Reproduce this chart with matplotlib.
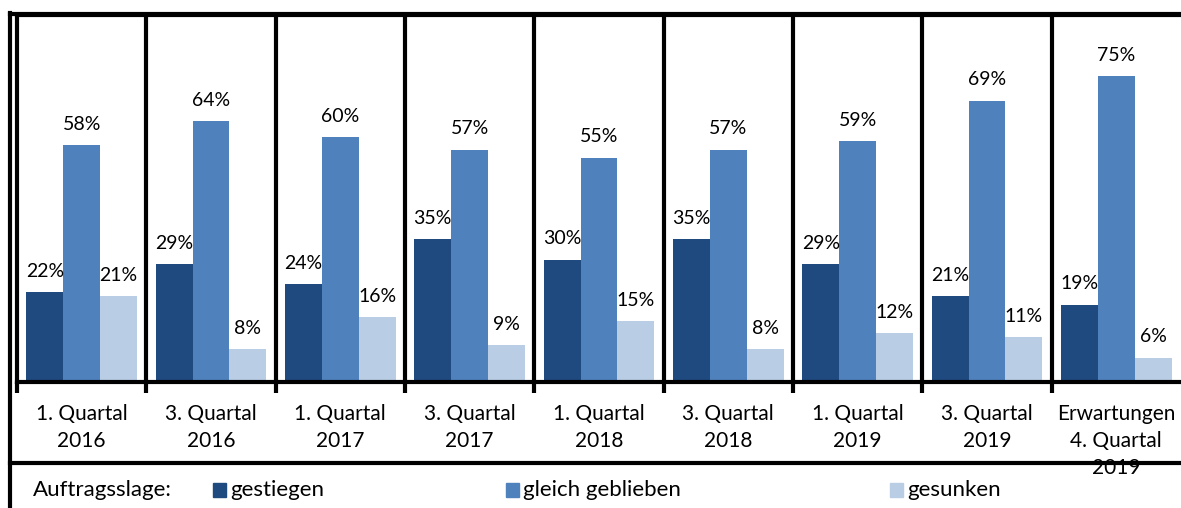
import numpy as np
import matplotlib
matplotlib.use("Agg")
import matplotlib.pyplot as plt
from matplotlib.lines import Line2D
from matplotlib.patches import Rectangle
import matplotlib.transforms as mtransforms

plt.rcParams['font.family'] = ['Lato', 'DejaVu Sans']

# Daten
kategorien = ["1. Quartal\n2016", "3. Quartal\n2016", "1. Quartal\n2017", "3. Quartal\n2017",
              "1. Quartal\n2018", "3. Quartal\n2018", "1. Quartal\n2019", "3. Quartal\n2019",
              "Erwartungen\n4. Quartal\n2019"]
gestiegen = [22, 29, 24, 35, 30, 35, 29, 21, 19]
gleich = [58, 64, 60, 57, 55, 57, 59, 69, 75]
gesunken = [21, 8, 16, 9, 15, 8, 12, 11, 6]
serien = ["gestiegen", "gleich geblieben", "gesunken"]
farben = ["#1f4a7f", "#4f81bd", "#b9cde5"]

W, H = 1181, 508
fig = plt.figure(figsize=(W / 100, H / 100), dpi=100)
ax = fig.add_axes([17 / W, 1 - 382 / H, 1 - 17 / W, (382 - 15) / H])

x = np.arange(len(kategorien))
bw = 0.285
for k, (werte, farbe) in enumerate(zip([gestiegen, gleich, gesunken], farben)):
    pos = x + (k - 1) * bw
    ax.bar(pos, werte, width=bw, color=farbe, zorder=2)
    for p, v in zip(pos, werte):
        ax.text(p, v + 3, f"{v}%", ha="center", va="bottom", fontsize=14)

ax.set_xlim(-0.5, len(kategorien) - 0.5)
ax.set_ylim(0, 90)
ax.set_yticks([])

# Trennlinien zwischen den Gruppen
grenzen = np.arange(0.5, len(kategorien) - 0.5)
for g in grenzen:
    ax.axvline(g, color="black", lw=3, zorder=3)
ax.set_xticks(np.concatenate([[-0.5], grenzen]))
ax.set_xticklabels([])
ax.tick_params(axis="x", length=8, width=3, direction="out", color="black")

for s in ["left", "top", "bottom"]:
    ax.spines[s].set_linewidth(3)
ax.spines["right"].set_visible(False)

trans = mtransforms.blended_transform_factory(ax.transData, ax.transAxes)
for xi, lab in zip(x, kategorien):
    ax.text(xi, -0.06, lab, transform=trans, ha="center", va="top",
            fontsize=15, linespacing=1.45, clip_on=False)

# Rahmen
fig.add_artist(Line2D([10 / W, 10 / W], [0, 1 - 13 / H], color="black", lw=3))
fig.add_artist(Line2D([10 / W, 1], [1 - 14 / H, 1 - 14 / H], color="black", lw=3))
fig.add_artist(Line2D([10 / W, 1], [1 - 463 / H, 1 - 463 / H], color="black", lw=3, zorder=5))

# Legende
ly = 1 - 490 / H
fig.text(33 / W, ly, "Auftragsslage:", fontsize=16, va="center")
for sx, name, farbe in zip([213, 506, 890], serien, farben):
    fig.add_artist(Rectangle((sx / W, ly - 7 / H), 13 / W, 14 / H, color=farbe,
                             transform=fig.transFigure))
    fig.text((sx + 17) / W, ly, name, fontsize=16, va="center")

fig.savefig("out.png", dpi=100)
